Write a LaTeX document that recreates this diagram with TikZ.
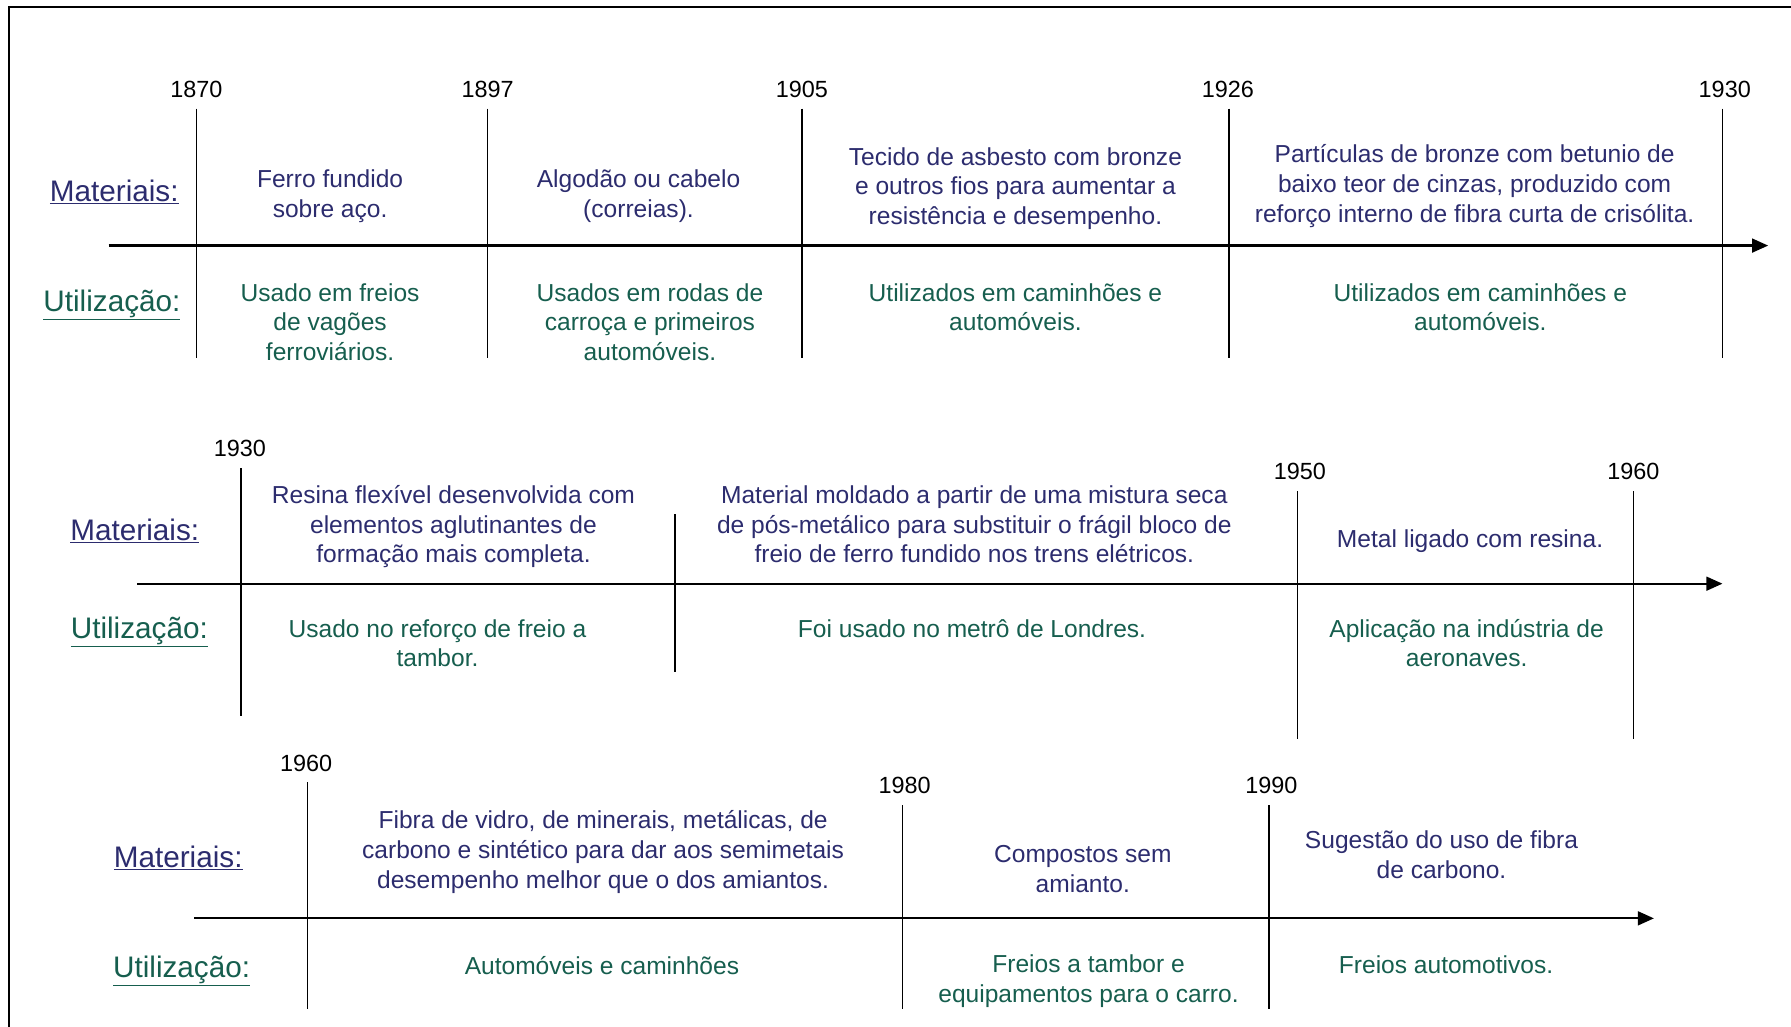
\documentclass[tikz,border=0pt]{standalone}
\usepackage{fontspec}
\setmainfont{Liberation Sans}
\usetikzlibrary{arrows.meta}
\definecolor{matc}{RGB}{44,44,110}
\definecolor{utic}{RGB}{22,94,78}
\begin{document}
\begin{tikzpicture}[x=1pt,y=-1pt,
  yr/.style={font=\fontsize{20.5}{24}\selectfont, text=black, inner sep=0pt},
  mat/.style={font=\fontsize{21.5}{26}\selectfont, text=matc, align=center, inner sep=0pt, yshift=-2pt},
  uti/.style={font=\fontsize{21.5}{26}\selectfont, text=utic, align=center, inner sep=0pt},
  lblm/.style={font=\fontsize{26}{30}\selectfont, text=matc, inner sep=0pt},
  lblu/.style={font=\fontsize{26}{30}\selectfont, text=utic, inner sep=0pt},
  axisline/.style={line width=2pt, -{Triangle[length=14pt,width=12pt]}},
  tickline/.style={line width=1.3pt},
  frameline/.style={line width=2pt}]
\useasboundingbox (0,0) rectangle (1568,899);
% frame
\coordinate (f1) at (8,899);
\coordinate (f2) at (8,6);
\coordinate (f3) at (1568,6);
\draw[frameline] (f1) -- (f2) -- (f3);

% ================= Row 1
\coordinate (a1s) at (95,215); \coordinate (a1e) at (1548,215);
\draw[axisline] (a1s) -- (a1e);
\node[yr] (y1870) at (172,78) {1870};
\node[yr] (y1897) at (427,78) {1897};
\node[yr] (y1905) at (702,78) {1905};
\node[yr] (y1926) at (1075,78) {1926};
\node[yr] (y1930a) at (1510,78) {1930};
\coordinate (t11a) at (172,95);  \coordinate (t11b) at (172,313);
\coordinate (t12a) at (427,95);  \coordinate (t12b) at (427,313);
\coordinate (t13a) at (702,95);  \coordinate (t13b) at (702,313);
\coordinate (t14a) at (1076,95); \coordinate (t14b) at (1076,313);
\coordinate (t15a) at (1508,95); \coordinate (t15b) at (1508,313);
\draw[tickline] (t11a) -- (t11b);
\draw[tickline] (t12a) -- (t12b);
\draw[tickline] (t13a) -- (t13b);
\draw[tickline] (t14a) -- (t14b);
\draw[tickline] (t15a) -- (t15b);
\node[lblm] (m1) at (100,168) {\underline{Materiais:}};
\node[lblu] (u1) at (98,267) {\underline{Utilização:}};
\node[mat] (m11) at (289,170) {Ferro fundido\\sobre aço.};
\node[mat] (m12) at (559,170) {Algodão ou cabelo\\(correias).};
\node[mat] (m13) at (889,163) {Tecido de asbesto com bronze\\e outros fios para aumentar a\\resistência e desempenho.};
\node[mat] (m14) at (1291,161) {Partículas de bronze com betunio de\\baixo teor de cinzas, produzido com\\reforço interno de fibra curta de crisólita.};
\node[uti] (u11) at (289,282) {Usado em freios\\de vagões\\ferroviários.};
\node[uti] (u12) at (569,282) {Usados em rodas de\\carroça e primeiros\\automóveis.};
\node[uti] (u13) at (889,269) {Utilizados em caminhões e\\automóveis.};
\node[uti] (u14) at (1296,269) {Utilizados em caminhões e\\automóveis.};

% ================= Row 2
\coordinate (a2s) at (120,511); \coordinate (a2e) at (1508,511);
\draw[axisline] (a2s) -- (a2e);
\node[yr] (y1930b) at (210,393) {1930};
\node[yr] (y1950) at (1138,413) {1950};
\node[yr] (y1960a) at (1430,413) {1960};
\coordinate (t21a) at (211,410);  \coordinate (t21b) at (211,627);
\coordinate (t22a) at (591,450);  \coordinate (t22b) at (591,588);
\coordinate (t23a) at (1136,430); \coordinate (t23b) at (1136,647);
\coordinate (t24a) at (1430,430); \coordinate (t24b) at (1430,647);
\draw[tickline] (t21a) -- (t21b);
\draw[tickline] (t22a) -- (t22b);
\draw[tickline] (t23a) -- (t23b);
\draw[tickline] (t24a) -- (t24b);
\node[lblm] (m2) at (118,465) {\underline{Materiais:}};
\node[lblu] (u2) at (122,553) {\underline{Utilização:}};
\node[mat] (m21) at (397,459) {Resina flexível desenvolvida com\\elementos aglutinantes de\\formação mais completa.};
\node[mat] (m22) at (853,457) {Material moldado a partir de uma mistura seca\\de pós-metálico para substituir o frágil bloco de\\freio de ferro fundido nos trens elétricos.};
\node[mat] (m23) at (1287,472) {Metal ligado com resina.};
\node[uti] (u21) at (383,563) {Usado no reforço de freio a\\tambor.};
\node[uti] (u22) at (851,550) {Foi usado no metrô de Londres.};
\node[uti] (u23) at (1284,563) {Aplicação na indústria de\\aeronaves.};

% ================= Row 3
\coordinate (a3s) at (170,804); \coordinate (a3e) at (1448,804);
\draw[axisline] (a3s) -- (a3e);
\node[yr] (y1960b) at (268,668) {1960};
\node[yr] (y1980) at (792,688) {1980};
\node[yr] (y1990) at (1113,688) {1990};
\coordinate (t31a) at (269,685);  \coordinate (t31b) at (269,883);
\coordinate (t32a) at (790,705);  \coordinate (t32b) at (790,883);
\coordinate (t33a) at (1111,705); \coordinate (t33b) at (1111,883);
\draw[tickline] (t31a) -- (t31b);
\draw[tickline] (t32a) -- (t32b);
\draw[tickline] (t33a) -- (t33b);
\node[lblm] (m3) at (156,751) {\underline{Materiais:}};
\node[lblu] (u3) at (159,850) {\underline{Utilização:}};
\node[mat] (m31) at (528,744) {Fibra de vidro, de minerais, metálicas, de\\carbono e sintético para dar aos semimetais\\desempenho melhor que o dos amiantos.};
\node[mat] (m32) at (948,759) {Compostos sem\\amianto.};
\node[mat] (m33) at (1262,746) {Sugestão do uso de fibra\\de carbono.};
\node[uti] (u31) at (527,845) {Automóveis e caminhões};
\node[uti] (u32) at (953,859) {Freios a tambor e\\equipamentos para o carro.};
\node[uti] (u33) at (1266,845) {Freios automotivos.};
\end{tikzpicture}
\end{document}
